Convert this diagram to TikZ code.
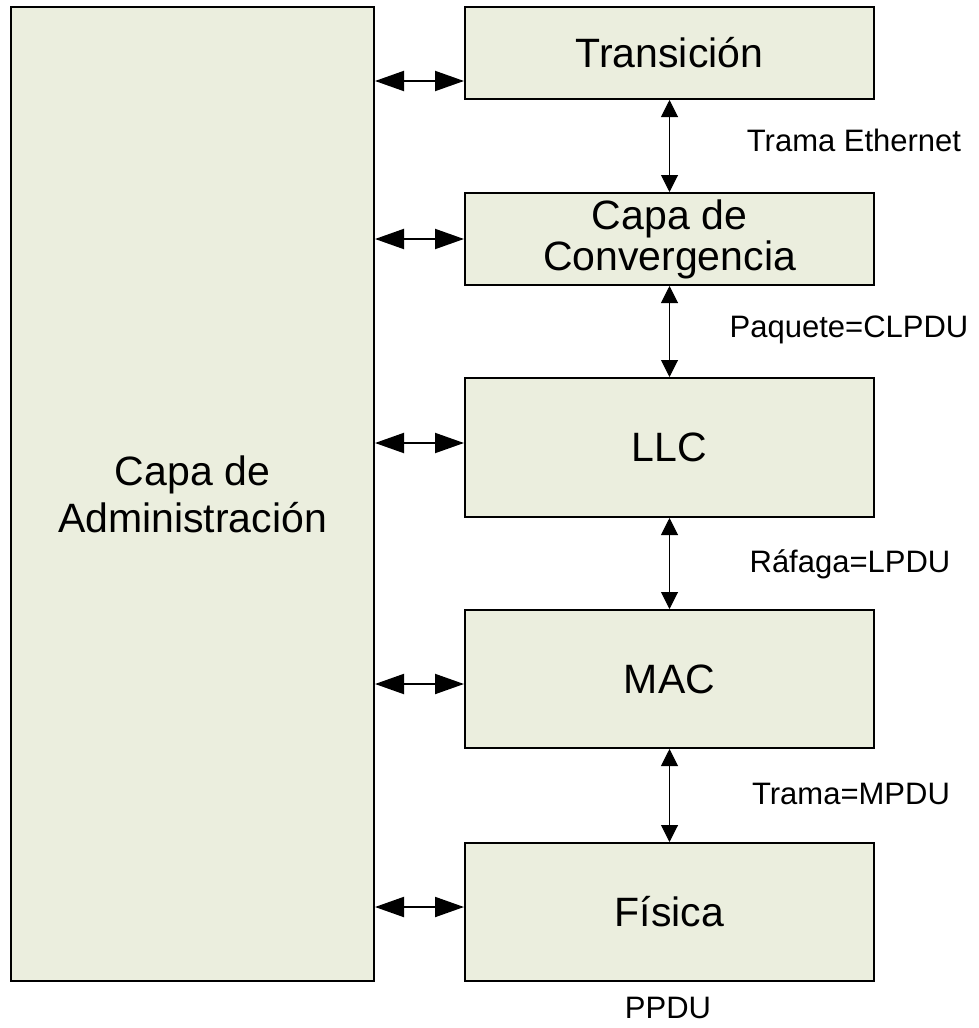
\documentclass[tikz,border=0pt]{standalone}
\usepackage{fontspec}
\setmainfont{Liberation Sans}
\usepackage{tikz}
\usetikzlibrary{arrows.meta, positioning}
\definecolor{layerfill}{RGB}{235,238,222}

\begin{document}
\begin{tikzpicture}[
        x=0.5pt, y=-0.5pt,
        layer/.style={draw, line width=1pt, fill=layerfill, align=center, inner sep=0pt, font=\fontsize{20.5}{20.5}\selectfont},
        stack/.style={layer, minimum width=204.5pt},
        mgmtlink/.style={line width=1pt, {Triangle[length=14.5pt, width=10pt]}-{Triangle[length=14.5pt, width=10pt]}},
        pdulink/.style={line width=0.5pt, {Triangle[length=8.5pt, width=8.5pt]}-{Triangle[length=8.5pt, width=8.5pt]}},
        pdu/.style={inner sep=0pt, font=\fontsize{15.5}{18}\selectfont}
    ]
        \useasboundingbox (0,0) rectangle (979,1028);

        % -- management plane (left) --
        \node[layer, minimum width=181.5pt, minimum height=487pt, font=\fontsize{20.5}{23.5}\selectfont] (admin) at (192.5,494) {Capa de\\Administración};

        % -- protocol stack (right) --
        \node[stack, minimum height=46pt] (trans) at (669.5,53)  {Transición};
        \node[stack, minimum height=46pt] (conv)  at (669.5,239) {Capa de\\Convergencia};
        \node[stack, minimum height=69.5pt] (llc) at (669.5,447.5) {LLC};
        \node[stack, minimum height=69pt] (mac)   at (669.5,679) {MAC};
        \node[stack, minimum height=69pt] (fis)   at (669.5,912) {Física};

        % -- PDU labels --
        \node[pdu] (eth)   at (854,140)  {Trama Ethernet};
        \node[pdu] (clpdu) at (849,330)  {Paquete=CLPDU};
        \node[pdu] (lpdu)  at (850,564)  {Ráfaga=LPDU};
        \node[pdu] (mpdu)  at (851,794)  {Trama=MPDU};
        \node[pdu] (ppdu)  at (668,1008) {PPDU};

        % stack arrows (vertical)
        \draw[pdulink] (trans.south) -- (conv.north);
        \draw[pdulink] (conv.south) -- (llc.north);
        \draw[pdulink] (llc.south) -- (mac.north);
        \draw[pdulink] (mac.south) -- (fis.north);

        % management arrows (horizontal)
        \coordinate (tin) at ([yshift=-14pt]trans.west);
        \coordinate (cin) at (conv.west);
        \coordinate (lin) at ([yshift=2.25pt]llc.west);
        \coordinate (min) at ([yshift=-2.5pt]mac.west);
        \coordinate (fin) at ([yshift=2.5pt]fis.west);
        \draw[mgmtlink] (admin.east |- tin) -- (tin);
        \draw[mgmtlink] (admin.east |- cin) -- (cin);
        \draw[mgmtlink] (admin.east |- lin) -- (lin);
        \draw[mgmtlink] (admin.east |- min) -- (min);
        \draw[mgmtlink] (admin.east |- fin) -- (fin);
    \end{tikzpicture}
\end{document}
